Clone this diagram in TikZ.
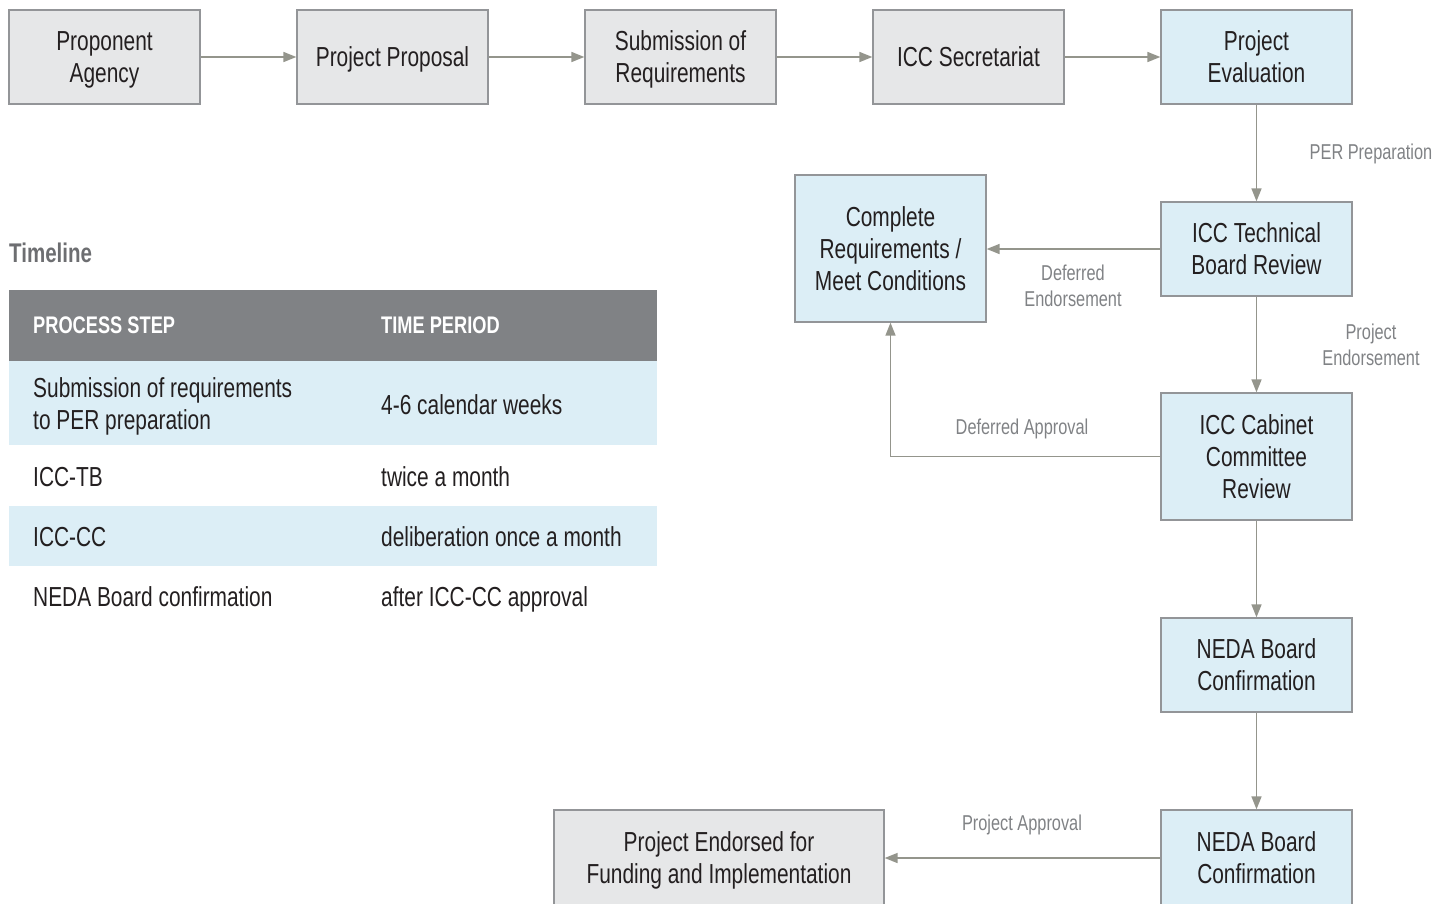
\documentclass[tikz,border=0pt]{standalone}
\usepackage{fontspec}
\setmainfont{Liberation Sans}[FakeStretch=0.76]
\usetikzlibrary{arrows.meta}

\definecolor{boxgray}{HTML}{E6E7E8}
\definecolor{boxblue}{HTML}{DCEEF6}
\definecolor{edgegray}{HTML}{939598}
\definecolor{arrgray}{HTML}{94958C}
\definecolor{headgray}{HTML}{808285}
\definecolor{titlegray}{HTML}{6D6E71}
\definecolor{txtdark}{HTML}{231F20}
\definecolor{labgray}{HTML}{808285}

\begin{document}
\begin{tikzpicture}[x=1pt,y=-1pt,
	box/.style={draw=edgegray, line width=1.3pt, minimum width=191pt, minimum height=94pt,
		inner sep=0pt, align=center, text depth=0pt, text=txtdark, font=\fontsize{27.5}{32}\selectfont},
	gbox/.style={box, fill=boxgray},
	bbox/.style={box, fill=boxblue},
	flow/.style={arrgray, line width=1.6pt, -{Triangle[length=13pt,width=10pt]}},
	lab/.style={text=labgray, align=center, font=\fontsize{21.5}{26}\selectfont},
	cell/.style={anchor=west, align=left, text=txtdark, inner sep=0pt, font=\fontsize{27.5}{32}\selectfont},
	cell1/.style={cell, text height=20pt, text depth=0pt},
	hcell/.style={anchor=west, text=white, inner sep=0pt, font=\bfseries\fontsize{24}{28}\selectfont}]

\useasboundingbox (0,0) rectangle (1449,903);
\clip (0,0) rectangle (1449,903);

%% top row
\node[gbox] (pa) at (104.5,57) {Proponent\\Agency};
\node[gbox] (pp) at (392.5,57) {Project Proposal};
\node[gbox] (sr) at (680.5,57) {Submission of\\Requirements};
\node[gbox] (sec) at (968.5,57) {ICC Secretariat};
\node[bbox] (pe) at (1256.5,57) {Project\\Evaluation};

\draw[flow] (pa)--(pp);
\draw[flow] (pp)--(sr);
\draw[flow] (sr)--(sec);
\draw[flow] (sec)--(pe);

%% right column
\node[bbox] (tb) at (1256.5,249) {ICC Technical\\Board Review};
\node[bbox, minimum height=147pt] (cr) at (890.5,248.5) {Complete\\Requirements /\\Meet Conditions};
\node[bbox, minimum height=127pt] (cc) at (1256.5,456.5) {ICC Cabinet\\Committee\\Review};
\node[bbox] (nb) at (1256.5,665) {NEDA Board\\Confirmation};
\node[bbox, minimum height=96pt] (nbc) at (1256.5,858) {NEDA Board\\Confirmation};
\node[gbox, minimum width=330pt, minimum height=96pt] (fe) at (719,858) {Project Endorsed for\\Funding and Implementation};

% PER
\draw[flow] (pe)--(tb);
\node[lab] (lper) at (1371,154) {PER Preparation};
% deferred endorsement
\draw[flow] (tb.west)--(tb.west -| cr.east);
\node[lab] (lde) at (1073,286) {Deferred\\Endorsement};
% endorsement
\draw[flow] (tb)--(cc);
\node[lab] (lpe) at (1371,345) {Project\\Endorsement};
% deferred approval
\draw[flow] (cc.west) -| (cr.south);
\node[lab] (lda) at (1022,429) {Deferred Approval};

\draw[flow] (cc)--(nb);
\draw[flow] (nb)--(nbc);

% approval
\draw[flow] (nbc.west)--(fe.east);
\node[lab] (lpa) at (1022,825) {Project Approval};

%% timeline
\node[anchor=west, inner sep=0pt, text=titlegray, font=\bfseries\fontsize{27}{30}\selectfont] (tl) at (9,253) {Timeline};

\fill[headgray] (9,290) rectangle (657,361);
\fill[boxblue] (9,361) rectangle (657,445);
\fill[boxblue] (9,506) rectangle (657,566);

\node[hcell] (h1) at (33,325.5) {PROCESS STEP};
\node[hcell] (h2) at (381,325.5) {TIME PERIOD};

\node[cell] (s1) at (33,406) {Submission of requirements\\to PER preparation};
\node[cell1] (t1) at (381,404) {4-6 calendar weeks};
\node[cell1] (s2) at (33,476) {ICC-TB};
\node[cell1] (t2) at (381,476) {twice a month};
\node[cell1] (s3) at (33,536) {ICC-CC};
\node[cell1] (t3) at (381,536) {deliberation once a month};
\node[cell1] (s4) at (33,596) {NEDA Board confirmation};
\node[cell1] (t4) at (381,596) {after ICC-CC approval};

\end{tikzpicture}
\end{document}
